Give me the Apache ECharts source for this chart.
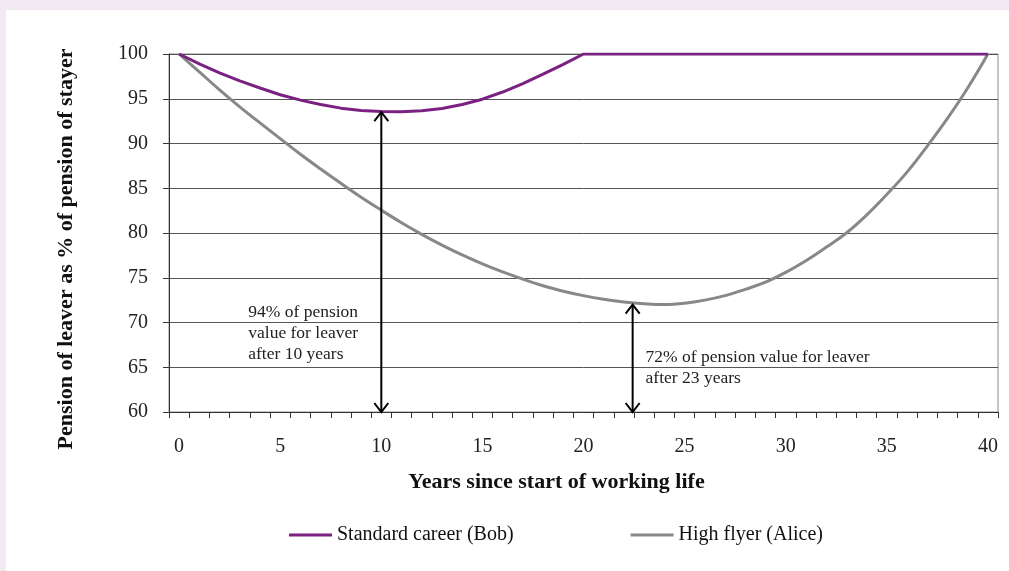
<!DOCTYPE html>
<html>
<head>
<meta charset="utf-8">
<script src="https://cdn.jsdelivr.net/npm/echarts@6/dist/echarts.min.js"></script>
<style>
  html, body { margin: 0; padding: 0; background: #f2e9f2; width: 1009px; height: 571px; overflow: hidden; }
  #chart { position: absolute; left: 6px; top: 10px; width: 1003px; height: 561px; background: #ffffff; }
</style>
</head>
<body>
<div id="chart"></div>
<script>
// ---- data ----
const years = ['0','1','2','3','4','5','6','7','8','9','10','11','12','13','14','15','16','17','18','19','20',
  '21','22','23','24','25','26','27','28','29','30','31','32','33','34','35','36','37','38','39','40'];
const bobValues = [100, 98.9, 97.9, 97.0, 96.2, 95.45, 94.85, 94.35, 93.95, 93.7, 93.57, 93.55, 93.65, 93.9, 94.35,
  94.95, 95.75, 96.7, 97.75, 98.85, 100, 100, 100, 100, 100, 100, 100, 100, 100, 100, 100, 100, 100, 100, 100,
  100, 100, 100, 100, 100, 100];
const aliceValues = [100, 98.0, 96.0, 94.1, 92.3, 90.55, 88.8, 87.15, 85.55, 84.0, 82.55, 81.15, 79.85, 78.65, 77.55,
  76.55, 75.65, 74.85, 74.1, 73.5, 73.0, 72.6, 72.3, 72.1, 72.0, 72.15, 72.5, 73.0, 73.7, 74.5, 75.6, 76.9, 78.4,
  80.0, 82.0, 84.3, 86.8, 89.7, 92.8, 96.2, 100];
const seriesNames = ['Standard career (Bob)', 'High flyer (Alice)'];
// arrows: [year, top value, bottom value]
const arrowData = [[10, 93.5, 60], [22.43, 72.0, 60]];
// notes: [year, value at top of text]
const noteAnchors = [[3.42, 72.25], [23.07, 67.3]];
const noteTexts = ['94% of pension\nvalue for leaver\nafter 10 years', '72% of pension value for leaver\nafter 23 years'];
const xTitle = 'Years since start of working life';
const yTitle = 'Pension of leaver as % of pension of stayer';

const FONT = '"Liberation Serif", "DejaVu Serif", serif';
const PURPLE = '#7b2182';
const GREY = '#888888';

const chart = echarts.init(document.getElementById('chart'));
chart.setOption({
  animation: false,
  grid: { left: 163, top: 44, right: 11, bottom: 159, show: true, borderColor: '#8a8a8a', borderWidth: 1, backgroundColor: 'transparent' },
  legend: {
    left: 278, top: 510, icon: 'rect', itemWidth: 43, itemHeight: 3, itemGap: 117,
    textStyle: { fontFamily: FONT, fontSize: 20, color: '#111' },
    data: seriesNames
  },
  xAxis: [{
    type: 'category', data: years, boundaryGap: true,
    axisLine: { lineStyle: { color: '#333', width: 1 } },
    axisTick: { show: true, interval: 0, length: 6, lineStyle: { color: '#333' } },
    axisLabel: { interval: 4, margin: 25, fontFamily: FONT, fontSize: 20, color: '#222' },
    splitLine: { show: false },
    name: xTitle, nameLocation: 'middle', nameGap: 59,
    nameTextStyle: { fontFamily: FONT, fontSize: 22, fontWeight: 'bold', color: '#111', padding: [0, 54, 0, 0] }
  }, {
    type: 'value', min: -0.5, max: 40.5, show: false
  }],
  yAxis: {
    type: 'value', min: 60, max: 100, interval: 5,
    axisLine: { show: true, onZero: false, lineStyle: { color: '#333', width: 1 } },
    axisTick: { show: true, length: 6, lineStyle: { color: '#333' } },
    axisLabel: { margin: 21, fontFamily: FONT, fontSize: 20, color: '#222' },
    splitLine: { show: true, lineStyle: { color: '#555', width: 1 } },
    name: yTitle, nameLocation: 'middle', nameGap: 92,
    nameTextStyle: { fontFamily: FONT, fontSize: 22, fontWeight: 'bold', color: '#111', padding: [0, 32, 0, 0] }
  },
  series: [{
    name: seriesNames[0], type: 'line', data: bobValues, symbol: 'none', smooth: false,
    lineStyle: { color: PURPLE, width: 3 }, itemStyle: { color: PURPLE }, z: 3
  }, {
    name: seriesNames[1], type: 'line', data: aliceValues, symbol: 'none', smooth: 0.4,
    lineStyle: { color: GREY, width: 3 }, itemStyle: { color: GREY }, z: 2
  }, {
    type: 'custom', xAxisIndex: 1, yAxisIndex: 0, data: arrowData, encode: { x: 0, y: [1, 2] }, z: 4,
    renderItem: function (params, api) {
      const t = api.coord([api.value(0), api.value(1)]);
      const b = api.coord([api.value(0), api.value(2)]);
      const w = 7, h = 9;
      const st = { stroke: '#000', lineWidth: 2, fill: null };
      return { type: 'group', children: [
        { type: 'line', shape: { x1: t[0], y1: t[1] + 1, x2: b[0], y2: b[1] - 1 }, style: st },
        { type: 'polyline', shape: { points: [[t[0] - w, t[1] + h], [t[0], t[1]], [t[0] + w, t[1] + h]] }, style: st },
        { type: 'polyline', shape: { points: [[b[0] - w, b[1] - h], [b[0], b[1]], [b[0] + w, b[1] - h]] }, style: st }
      ]};
    }
  }, {
    type: 'custom', xAxisIndex: 1, yAxisIndex: 0, data: noteAnchors, encode: { x: 0, y: 1 }, z: 4,
    renderItem: function (params, api) {
      const p = api.coord([api.value(0), api.value(1)]);
      return { type: 'text', x: p[0], y: p[1], style: {
        text: noteTexts[params.dataIndex], fontFamily: FONT, fontSize: 17.5, lineHeight: 21,
        fill: '#222', align: 'left', verticalAlign: 'top'
      }};
    }
  }]
});
</script>
</body>
</html>
